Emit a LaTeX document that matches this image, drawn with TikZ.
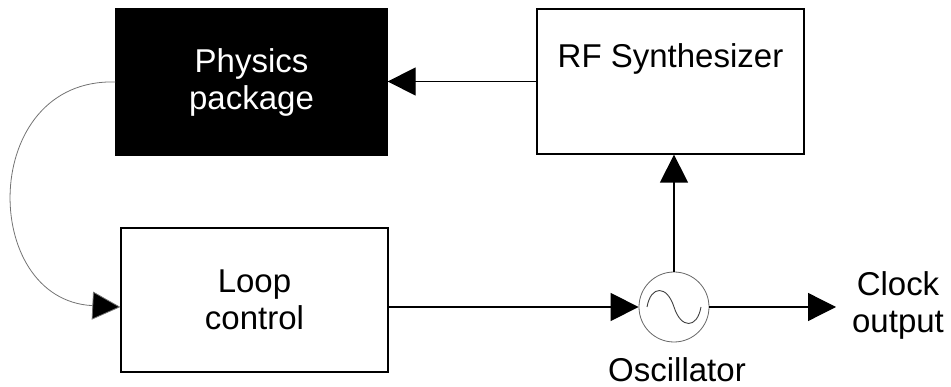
\documentclass[tikz,border=0pt]{standalone}
\usepackage{fontspec}
\setmainfont{Liberation Sans}
\usetikzlibrary{arrows.meta}
\begin{document}
\begin{tikzpicture}[x=1pt,y=-1pt,
  blk/.style={draw=black,line width=1.3pt,align=center,inner sep=0pt,font=\fontsize{33}{37}\selectfont},
  arr/.style={line width=1.3pt,-{Triangle[length=28pt,width=28pt]}},
  txt/.style={align=center,inner sep=0pt,font=\fontsize{33}{37}\selectfont}]
\useasboundingbox (0,0) rectangle (951,387);
\node[blk,fill=black,text=white,minimum width=271pt,minimum height=146pt] (phys) at (251.5,82) {Physics\\package};
\node[blk,minimum width=267pt,minimum height=145pt] (rf) at (670.5,81.5) {RF Synthesizer\\[4pt]\strut};
\node[blk,minimum width=267pt,minimum height=144pt] (loop) at (254.5,300) {Loop\\control};
\node[draw=black!60,circle,line width=0.8pt,minimum size=70pt,inner sep=0pt] (osc) at (674,307) {};
\draw[line width=0.9pt,black!75] (647,307) .. controls (651,285) and (667,285) .. (674,307) .. controls (681,329) and (697,329) .. (701,307);
\node[txt] (osclbl) at (677,370) {Oscillator};
\node[txt] (clock) at (898,305) {Clock\\output};
\coordinate (clk) at (836,307);
\draw[arr] (rf.west) -- (rf.west -| phys.east);
\draw[arr] (osc.north) -- (osc.north |- rf.south);
\draw[arr] (osc.west -| loop.east) -- (osc.west);
\draw[arr] (osc.east) -- (clk);
\draw[black!55,line width=0.8pt,-{Triangle[length=28pt,width=28pt,fill=black]}] (phys.west) .. controls (-21,78) and (-21,300) .. (loop.west |- 0,307);
\end{tikzpicture}
\end{document}
